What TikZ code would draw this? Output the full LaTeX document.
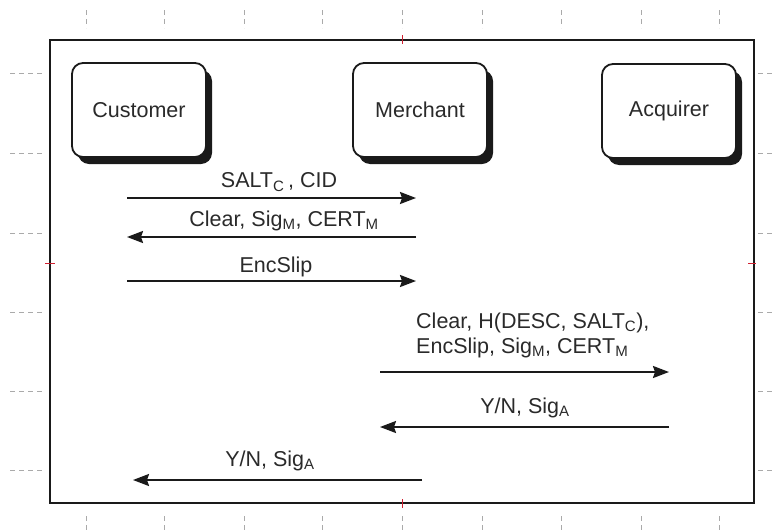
\documentclass[tikz,border=0pt]{standalone}
\usepackage{fontspec}
\setmainfont{Liberation Sans}
\usetikzlibrary{arrows.meta,shadows}
\definecolor{ink}{HTML}{1A1A1A}
\definecolor{txt}{HTML}{2A2A2A}
\definecolor{tick}{HTML}{AAAAAA}
\definecolor{redtick}{HTML}{D02030}
\newcommand\mysub[1]{\textsubscript{#1}}
\begin{document}
\begin{tikzpicture}[x=1pt,y=-1pt,
  actor/.style={draw=ink, line width=1.8pt, fill=white, rounded corners=11pt,
    minimum width=134pt, minimum height=94pt, inner sep=0pt, text=txt,
    font=\fontsize{21.5}{26}\selectfont,
    drop shadow={shadow xshift=6pt, shadow yshift=-7pt, fill=ink, opacity=1}},
  msg/.style={draw=ink, line width=2pt, -{Stealth[length=16pt,width=12pt,inset=2pt]}},
  lbl/.style={text=txt, font=\fontsize{21.5}{25}\selectfont, inner sep=0pt},
  tk/.style={draw=tick, line width=0.8pt, dash pattern=on 5pt off 4pt},
  rt/.style={draw=redtick, line width=1pt}]
\useasboundingbox (0,0) rectangle (775,530);
% frame
\draw[ink, line width=2pt] (50,40) rectangle (754,503);
% ticks
\foreach \x in {86,164,244,322,402,482,561,641,719}{
  \draw[tk] (\x,10) -- (\x,28);
  \draw[tk] (\x,516) -- (\x,530);
}
\foreach \y in {73,153,233,312,391,470}{
  \draw[tk] (10,\y) -- (42,\y);
  \draw[tk] (758,\y) -- (773,\y);
}
\draw[rt] (402,35) -- (402,44);
\draw[rt] (402,499) -- (402,508);
\draw[rt] (45,263) -- (55,263);
\draw[rt] (748,263) -- (756,263);
% actors
\node[actor] (cust) at (139,110) {\raisebox{-3pt}{Customer}};
\node[actor] (merch) at (420,110) {\raisebox{-3pt}{Merchant}};
\node[actor] (acq) at (669,111) {\raisebox{-3pt}{Acquirer}};
% message end points
\coordinate (c1) at (127,198); \coordinate (m1) at (416,198);
\coordinate (c2) at (127,237); \coordinate (m2) at (416,237);
\coordinate (c3) at (127,281); \coordinate (m3) at (416,281);
\coordinate (m4) at (380,372); \coordinate (a4) at (669,372);
\coordinate (m5) at (380,427); \coordinate (a5) at (669,427);
\coordinate (c6) at (133,480); \coordinate (m6) at (422,480);
% messages
\draw[msg] (c1) -- (m1);
\draw[msg] (m2) -- (c2);
\draw[msg] (c3) -- (m3);
\draw[msg] (m4) -- (a4);
\draw[msg] (a5) -- (m5);
\draw[msg] (m6) -- (c6);
% labels
\node[lbl] (l1) at (279,182) {SALT\mysub{C}\,, CID};
\node[lbl] (l2) at (284,221) {Clear, Sig\mysub{M}, CERT\mysub{M}};
\node[lbl] (l3) at (276,267) {EncSlip};
\node[lbl, anchor=west, align=left] (l4) at (416,335) {Clear, H(DESC, SALT\mysub{C}),\\EncSlip, Sig\mysub{M}, CERT\mysub{M}};
\node[lbl] (l5) at (525,408) {Y/N, Sig\mysub{A}};
\node[lbl] (l6) at (270,461) {Y/N, Sig\mysub{A}};
\end{tikzpicture}
\end{document}
